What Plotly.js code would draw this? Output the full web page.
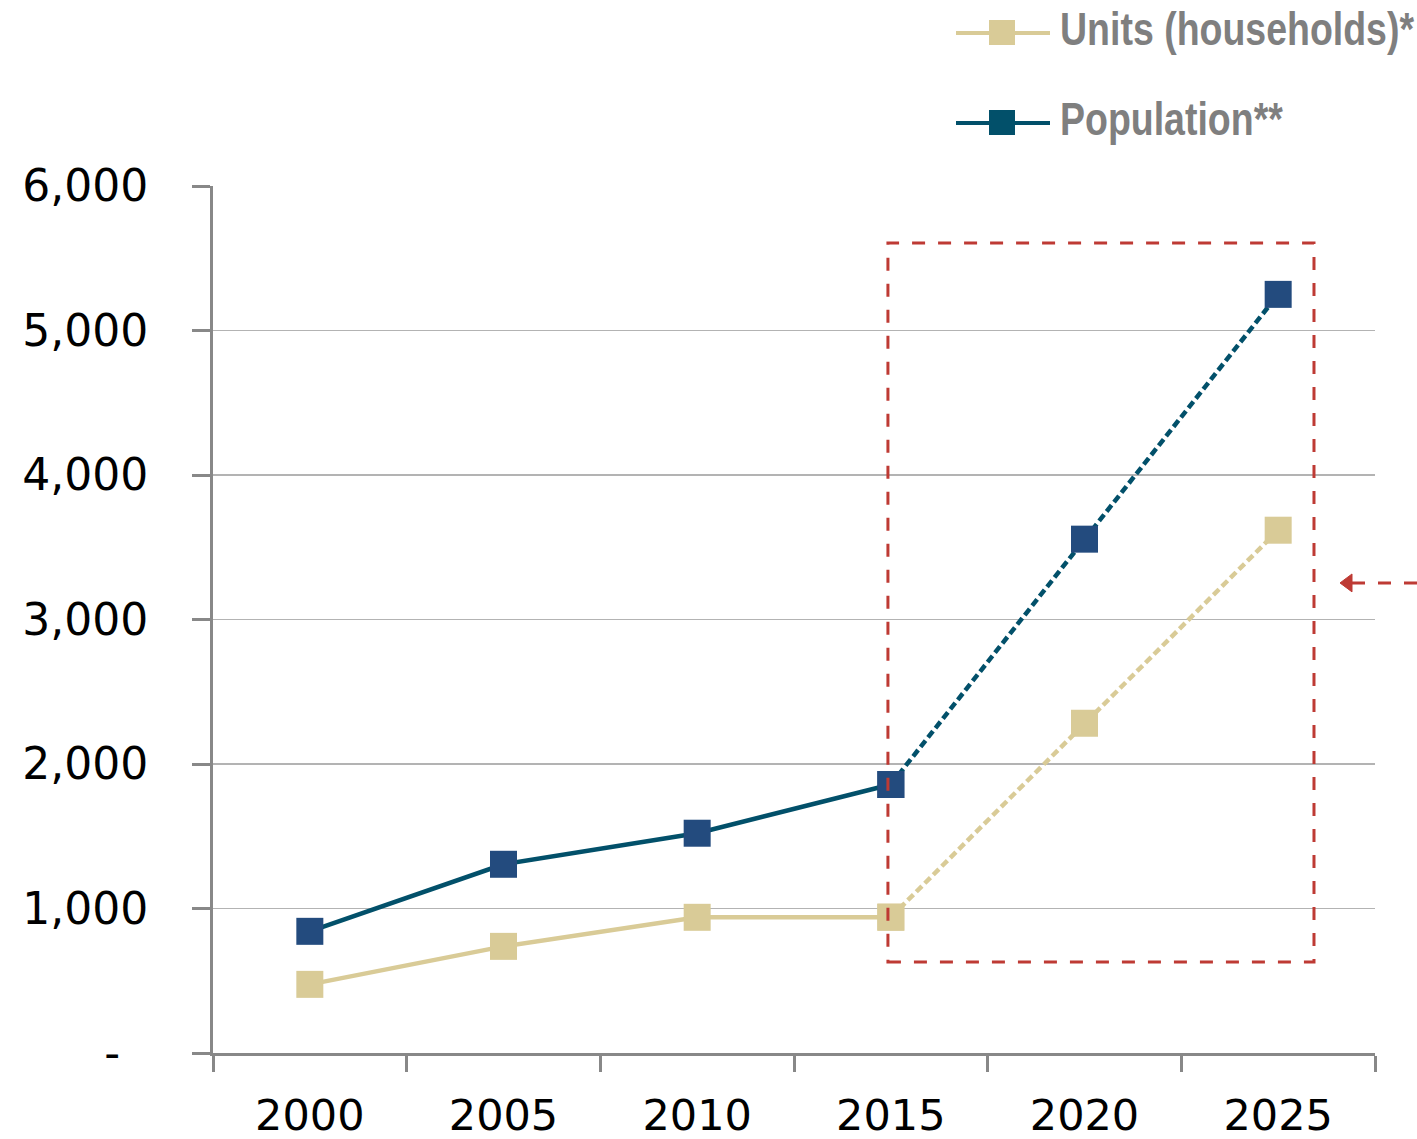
<!DOCTYPE html>
<html>
<head>
<meta charset="utf-8">
<script src="https://cdn.plot.ly/plotly-3.0.1.min.js"></script>
<style>html,body{margin:0;padding:0;background:#fff;}#chart{width:1417px;height:1139px;}</style>
</head>
<body>
<div id="chart"></div>
<script>
const years = ['2000', '2005', '2010', '2015', '2020', '2025'];
const units = [475, 738, 939, 940, 2282, 3618];
const population = [842, 1306, 1521, 1858, 3556, 5250];
const yTickVals = [0, 1000, 2000, 3000, 4000, 5000, 6000];
const yTickText = ['-\u00a0\u00a0', '1,000', '2,000', '3,000', '4,000', '5,000', '6,000'];
const seriesNames = ['Units (households)*', 'Population**'];
const lastActual = 3; // index of 2015: solid up to here, dotted after

const unitsLine = '#D9CB97';
const popLine = '#02506A';
const popMarker = '#234B7E';
const dotDash = '8px,4px';

const solidX = years.slice(0, lastActual + 1);
const dotX = years.slice(lastActual);

const traces = [
  { x: dotX, y: units.slice(lastActual), mode: 'lines+markers', showlegend: false,
    line: { color: unitsLine, width: 4.5, dash: dotDash }, marker: { symbol: 'square', size: 27, color: unitsLine } },
  { x: dotX, y: population.slice(lastActual), mode: 'lines+markers', showlegend: false,
    line: { color: popLine, width: 4.5, dash: dotDash }, marker: { symbol: 'square', size: 27, color: popMarker } },
  { x: solidX, y: units.slice(0, lastActual + 1), mode: 'lines+markers', showlegend: false,
    line: { color: unitsLine, width: 4.5 }, marker: { symbol: 'square', size: 27, color: unitsLine } },
  { x: solidX, y: population.slice(0, lastActual + 1), mode: 'lines+markers', showlegend: false,
    line: { color: popLine, width: 4.5 }, marker: { symbol: 'square', size: 27, color: popMarker } }
];

// Legend drawn in paper coordinates (line + square + label)
const W = 1162, H = 867, L = 213, T = 186;
const px = v => (v - L) / W;
const py = v => (T + H - v) / H;
const legendItems = [
  { name: seriesNames[0], color: unitsLine, yc: 33 },
  { name: seriesNames[1], color: popLine, yc: 123 }
];
const legendShapes = [];
const legendAnn = [];
legendItems.forEach(it => {
  legendShapes.push({ type: 'line', xref: 'paper', yref: 'paper', x0: px(956), x1: px(1050), y0: py(it.yc), y1: py(it.yc),
    line: { color: it.color, width: 4 } });
  legendShapes.push({ type: 'rect', xref: 'paper', yref: 'paper', x0: px(989), x1: px(1015), y0: py(it.yc + 12), y1: py(it.yc - 13),
    line: { width: 0 }, fillcolor: it.color });
  legendAnn.push({ xref: 'paper', yref: 'paper', x: px(1058), y: py(it.yc - 4), xanchor: 'left', yanchor: 'middle',
    showarrow: false, text: it.name,
    font: { family: '"Liberation Sans", Arial, sans-serif', size: 46, color: '#7F7F7F', weight: 'bold' } });
});

const red = '#BE3A34';
const layout = {
  width: 1417, height: 1139,
  margin: { l: 213, r: 42, t: 186, b: 86 },
  paper_bgcolor: '#ffffff', plot_bgcolor: '#ffffff',
  showlegend: false,
  xaxis: {
    type: 'category', categoryorder: 'array', categoryarray: years,
    range: [-0.5, 5.5], showgrid: false, zeroline: false,
    showline: true, linecolor: '#888888', linewidth: 3,
    ticks: 'outside', tickson: 'boundaries', ticklen: 16, tickwidth: 3, tickcolor: '#888888',
    ticklabelstandoff: 22,
    tickfont: { family: '"DejaVu Sans", Verdana, sans-serif', size: 43, color: '#000000' },
    fixedrange: true
  },
  yaxis: {
    range: [0, 6000], tickmode: 'array', tickvals: yTickVals, ticktext: yTickText,
    showgrid: true, gridcolor: '#B3B3B3', gridwidth: 1.3, zeroline: false,
    showline: true, linecolor: '#888888', linewidth: 3,
    ticks: 'outside', ticklen: 18, tickwidth: 3, tickcolor: '#888888',
    ticklabelstandoff: 35,
    tickfont: { family: '"DejaVu Sans", Verdana, sans-serif', size: 44, color: '#000000' },
    fixedrange: true
  },
  annotations: legendAnn,
  shapes: [
    { type: 'rect', xref: 'x', yref: 'y', x0: 2.985, x1: 5.185, y0: 630, y1: 5606,
      line: { color: red, width: 3, dash: '13px,13px' }, fillcolor: 'rgba(0,0,0,0)', layer: 'above' },
    { type: 'line', xref: 'paper', yref: 'y', x0: px(1352), x1: px(1420), y0: 3253, y1: 3253,
      line: { color: red, width: 3, dash: '13px,13px' } },
    { type: 'path', xref: 'paper', yref: 'y',
      path: `M ${px(1340)},3253 L ${px(1352)},3191 L ${px(1352)},3315 Z`,
      line: { color: red, width: 1 }, fillcolor: red }
  ].concat(legendShapes)
};

Plotly.newPlot('chart', traces, layout, { displayModeBar: false, staticPlot: true }).then(gd => {
  // compress legend labels horizontally (narrow bold face, as in the original)
  const s = 0.815;
  gd.querySelectorAll('text.annotation-text').forEach(t => {
    const b = t.getBBox();
    t.setAttribute('transform', `translate(${b.x * (1 - s)},0) scale(${s},1)`);
  });
});
</script>
</body>
</html>
